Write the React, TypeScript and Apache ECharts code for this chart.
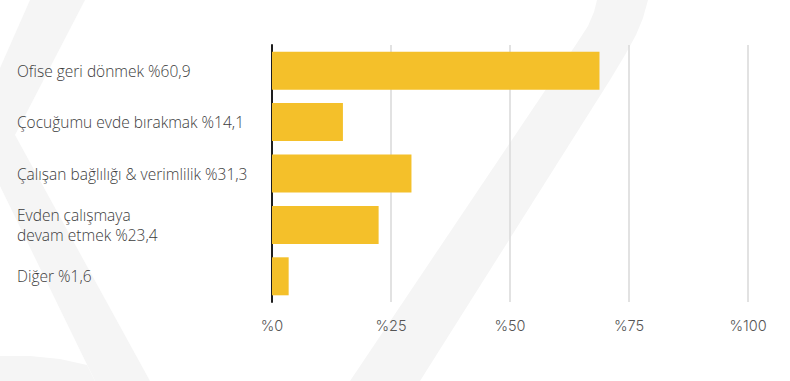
import React, { useEffect, useRef } from "react";
import * as echarts from "echarts";

const categories = [
  "Ofise geri dönmek %60,9",
  "Çocuğumu evde bırakmak %14,1",
  "Çalışan bağlılığı & verimlilik %31,3",
  "Evden çalışmaya\ndevam etmek %23,4",
  "Diğer %1,6",
];
// bar lengths as drawn in the reference (they differ from the label numbers)
const barValues = [68.8, 14.9, 29.3, 22.4, 3.5];
const tickValues = [0, 25, 50, 75, 100];
const tickLabelPrefix = "%";

export default function App() {
  const ref = useRef<HTMLDivElement>(null);
  useEffect(() => {
    if (!ref.current) return;
    const chart = echarts.init(ref.current, undefined, { renderer: "svg" });
    const wm = "#f5f5f5";
    chart.setOption({
      animation: false,
      backgroundColor: "#ffffff",
      graphic: [
        {
          type: "polygon",
          z: -100,
          silent: true,
          shape: {
            points: [
              [30, 0], [85, 0], [15, 135], [150, 381], [95, 381], [0, 186], [0, 68],
            ],
          },
          style: { fill: wm },
        },
        {
          type: "polygon",
          z: -100,
          silent: true,
          shape: {
            points: [
              [0, 356], [30, 356], [60, 359], [87, 365], [95, 381], [0, 381],
            ],
          },
          style: { fill: wm },
        },
        {
          type: "polygon",
          z: -100,
          silent: true,
          shape: {
            points: [
              [350, 381], [420, 381], [610, 80], [625, 55], [636, 35], [643, 18], [648, 0],
              [597, 0], [594, 12], [588, 26], [577, 43],
            ],
          },
          style: { fill: wm },
        },
      ],
      grid: { left: 272, right: 42, top: 45, bottom: 79, containLabel: false },
      xAxis: {
        type: "value",
        min: tickValues[0],
        max: tickValues[tickValues.length - 1],
        interval: 25,
        axisLine: { show: false },
        axisTick: { show: false },
        splitLine: { show: true, lineStyle: { color: "#d9d9d9", width: 1.5 } },
        axisLabel: {
          formatter: (v: number) => tickLabelPrefix + v,
          color: "#555555",
          fontSize: 14.5,
          fontFamily: "Inter, 'Noto Sans', sans-serif",
          fontWeight: 300,
          margin: 16,
        },
      },
      yAxis: {
        type: "category",
        data: categories,
        inverse: true,
        axisLine: { show: true, lineStyle: { color: "#1e1e1e", width: 2 } },
        axisTick: { show: false },
        axisLabel: {
          align: "left",
          margin: 255,
          color: "#3c3c3c",
          fontSize: 15.5,
          fontWeight: 300,
          lineHeight: 20,
          fontFamily: "'Open Sans', 'Noto Sans', sans-serif",
        },
      },
      series: [
        {
          type: "bar",
          data: barValues,
          barWidth: 38,
          itemStyle: { color: "#F4C02A" },
          z: 3,
        },
      ],
    });
    return () => chart.dispose();
  }, []);
  return (
    <div
      ref={ref}
      style={{ position: "fixed", left: 0, top: 0, width: 790, height: 381 }}
    />
  );
}
